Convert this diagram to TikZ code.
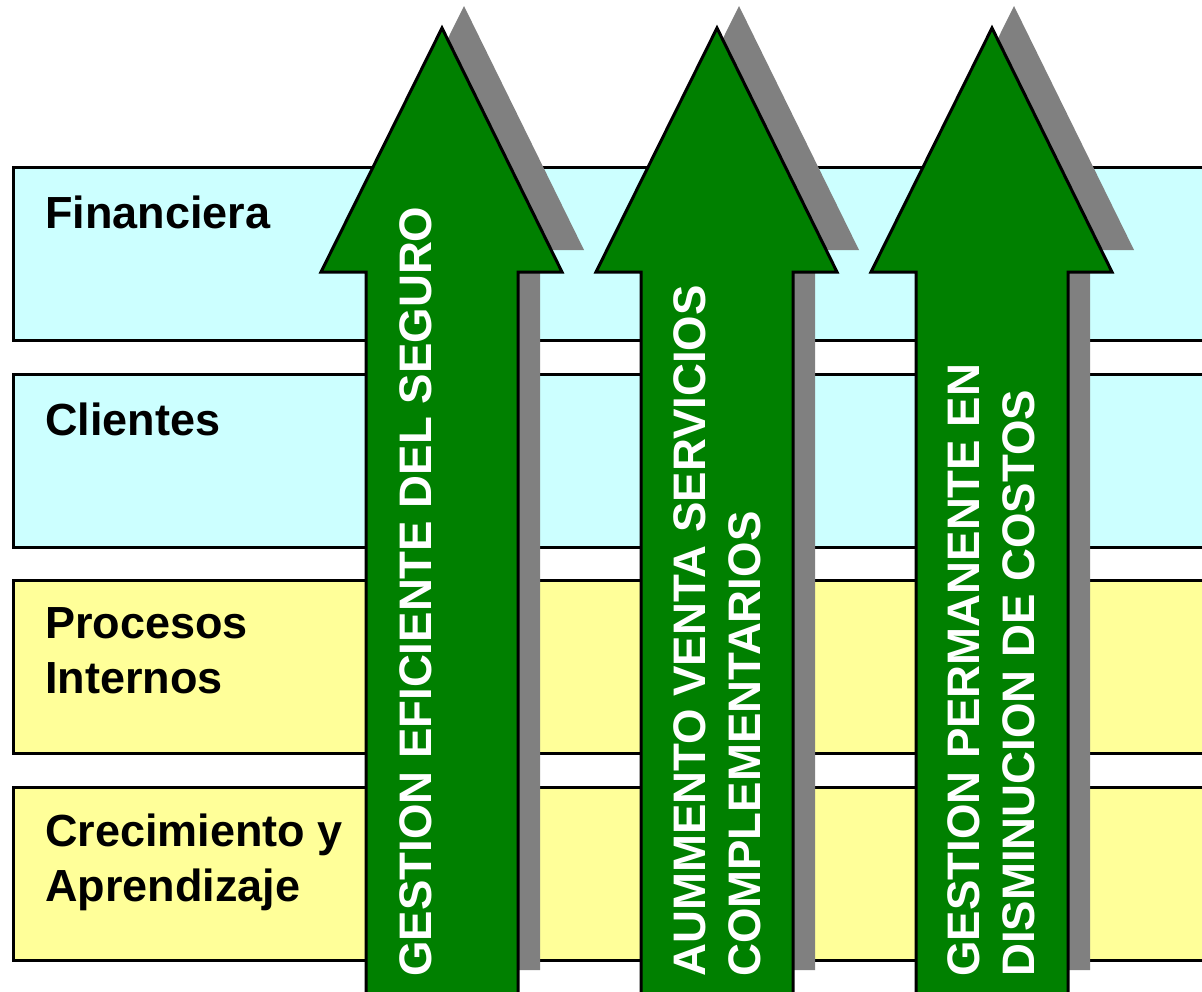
\documentclass[tikz,border=0pt]{standalone}
\usepackage{fontspec}
\setmainfont{Liberation Sans}
\usepackage{tikz}
\usetikzlibrary{positioning}
\definecolor{celeste}{RGB}{204,255,255}
\definecolor{amarillo}{RGB}{255,255,153}
\definecolor{verde}{RGB}{0,128,0}
\definecolor{sombra}{RGB}{128,128,128}
\tikzstyle{banda}=[rectangle,draw=black,line width=3pt,anchor=north west,minimum width=1230pt,minimum height=173pt,inner sep=0pt]
\tikzstyle{etiq}=[anchor=base west,inner sep=0pt,align=left,font=\bfseries\fontsize{45}{55}\selectfont]
\tikzstyle{flecha}=[fill=verde,draw=black,line width=3pt,line join=miter]
\tikzstyle{sombra}=[fill=sombra]
\tikzstyle{txtflecha}=[anchor=base west,inner sep=0pt,align=left,rotate=90,text=white,font=\bfseries\fontsize{45.6}{55}\selectfont]

\begin{document}
\begin{tikzpicture}
  [x=1pt,y=-1pt]
  \useasboundingbox (0,0) rectangle (1202,991);
  \clip (0,0) rectangle (1202,991);
  % perspectivas
  \node[banda,fill=celeste] (fin) at (12,166) {};
  \node[banda,fill=celeste] (cli) at (12,373) {};
  \node[banda,fill=amarillo] (pro) at (12,579) {};
  \node[banda,fill=amarillo] (cre) at (12,786) {};
  \node[etiq] (tfin) at (45,228) {Financiera};
  \node[etiq] (tcli) at (45,435) {Clientes};
  \node[etiq] (tpro) at (45,693) {Procesos\\Internos};
  \node[etiq] (tcre) at (45,901) {Crecimiento y\\Aprendizaje};
  % flechas
  \fill[sombra] (464,6) -- (584,250) -- (540,250) -- (540,970) -- (388,970) -- (388,250) -- (343,250) -- cycle;
  \draw[flecha] (442,28) -- (562,272) -- (518,272) -- (518,1000) -- (366,1000) -- (366,272) -- (321,272) -- cycle;
  \fill[sombra] (739,6) -- (859,250) -- (815,250) -- (815,970) -- (663,970) -- (663,250) -- (618,250) -- cycle;
  \draw[flecha] (717,28) -- (837,272) -- (793,272) -- (793,1000) -- (641,1000) -- (641,272) -- (596,272) -- cycle;
  \fill[sombra] (1014,6) -- (1134,250) -- (1090,250) -- (1090,970) -- (938,970) -- (938,250) -- (893,250) -- cycle;
  \draw[flecha] (992,28) -- (1112,272) -- (1068,272) -- (1068,1000) -- (916,1000) -- (916,272) -- (871,272) -- cycle;
  \node[txtflecha] (f1) at (431,977) {GESTION EFICIENTE DEL SEGURO};
  \node[txtflecha] (f2) at (760,977) {AUMMENTO VENTA SERVICIOS\\COMPLEMENTARIOS};
  \node[txtflecha] (f3) at (1034,977) {GESTION PERMANENTE EN\\DISMINUCION DE COSTOS};
\end{tikzpicture}
\end{document}
